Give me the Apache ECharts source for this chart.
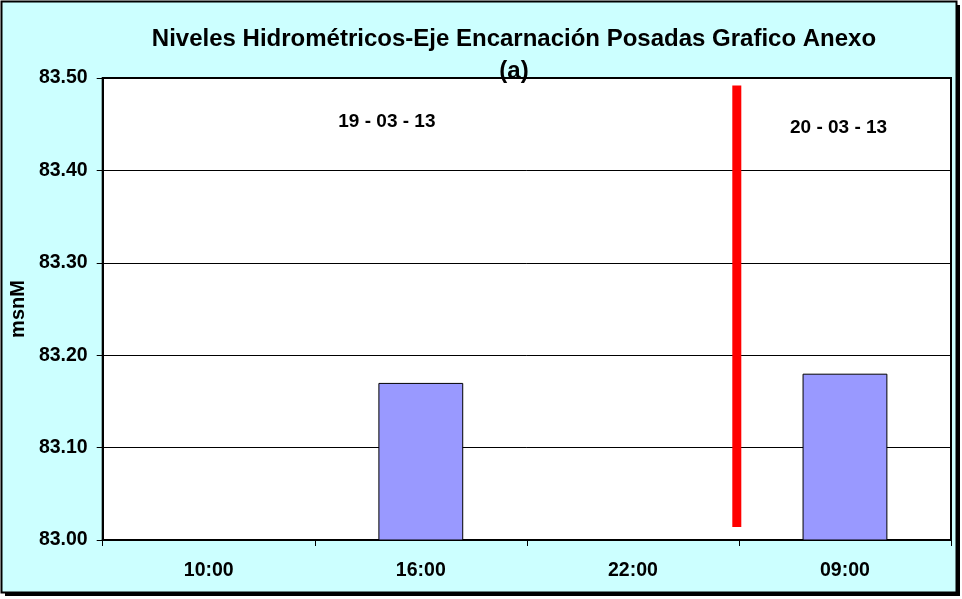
<!DOCTYPE html>
<html>
<head>
<meta charset="utf-8">
<script src="https://cdn.jsdelivr.net/npm/echarts@6/dist/echarts.min.js"></script>
<style>
html,body{margin:0;padding:0;background:#ffffff;}
#chart{width:962px;height:599px;}
</style>
</head>
<body>
<div id="chart"></div>
<script>
// ---- data ----
var categories = ['10:00', '16:00', '22:00', '09:00'];
var levels = [null, 83.17, null, 83.18];
var yTicks = { min: 83.0, max: 83.5, interval: 0.1 };
// day separator (x in category units 0..4, y in msnM)
var separatorX = [2.99, 2.99];
var separatorY = [83.014, 83.492];
// date annotations
var dateLabels = ['19 - 03 - 13', '20 - 03 - 13'];
var dateLabelX = [1.34, 3.47];
var dateLabelY = [83.453, 83.446];
var titleText = 'Niveles Hidrométricos-Eje Encarnación Posadas Grafico Anexo\n(a)';
var yAxisName = 'msnM';

var FONT = 'Arial, "Liberation Sans", sans-serif';
var chart = echarts.init(document.getElementById('chart'), null, { renderer: 'canvas' });

var sepData = separatorX.map(function (x, i) { return [x, separatorY[i]]; });
var labelData = dateLabels.map(function (t, i) { return { value: [dateLabelX[i], dateLabelY[i]], name: t }; });

var option = {
  backgroundColor: 'transparent',
  animation: false,
  graphic: [
    { type: 'rect', z: -10, shape: { x: 5, y: 5, width: 955, height: 591 }, style: { fill: '#000000' } },
    { type: 'rect', z: -9, shape: { x: 1.5, y: 1.5, width: 955, height: 591 }, style: { fill: '#CCFFFF', stroke: '#000000', lineWidth: 2 } }
  ],
  title: {
    text: titleText,
    left: 509,
    top: 18,
    textAlign: 'center',
    textStyle: { fontFamily: FONT, fontSize: 24, fontWeight: 'bold', color: '#000', lineHeight: 32 }
  },
  grid: { left: 101, top: 78, right: 11, bottom: 59, show: true, borderColor: '#000', borderWidth: 2, backgroundColor: '#ffffff' },
  xAxis: [
    {
      type: 'category',
      data: categories,
      boundaryGap: true,
      axisLine: { lineStyle: { color: '#000', width: 2 } },
      axisTick: { show: true, length: 6, lineStyle: { color: '#000', width: 1 }, alignWithLabel: false },
      axisLabel: { fontFamily: FONT, fontSize: 19.5, fontWeight: 'bold', color: '#000', margin: 21 },
      splitLine: { show: false }
    },
    { type: 'value', min: 0, max: 4, show: false }
  ],
  yAxis: {
    type: 'value',
    min: yTicks.min,
    max: yTicks.max,
    interval: yTicks.interval,
    name: yAxisName,
    nameLocation: 'middle',
    nameRotate: 90,
    nameGap: 73,
    nameTextStyle: { fontFamily: FONT, fontSize: 20, fontWeight: 'bold', color: '#000' },
    axisLine: { show: true, lineStyle: { color: '#000', width: 2 } },
    axisTick: { show: true, length: 6, lineStyle: { color: '#000', width: 1 } },
    axisLabel: { fontFamily: FONT, fontSize: 19.5, fontWeight: 'bold', color: '#000', margin: 15, formatter: function (v) { return v.toFixed(2); } },
    splitLine: { show: true, lineStyle: { color: '#000', width: 1 } }
  },
  series: [
    {
      type: 'bar',
      data: levels,
      barWidth: '40%',
      itemStyle: { color: '#9999FF', borderColor: '#000', borderWidth: 1 },
      xAxisIndex: 0
    },
    {
      type: 'line',
      xAxisIndex: 1,
      data: sepData,
      symbol: 'none',
      lineStyle: { color: '#FF0000', width: 9, cap: 'butt' },
      z: 5
    },
    {
      type: 'scatter',
      xAxisIndex: 1,
      data: labelData,
      symbolSize: 0,
      itemStyle: { opacity: 1 },
      label: {
        show: true,
        position: 'inside',
        formatter: function (p) { return p.name; },
        fontFamily: FONT, fontSize: 19, fontWeight: 'bold', color: '#000'
      }
    }
  ]
};
chart.setOption(option);
</script>
</body>
</html>
